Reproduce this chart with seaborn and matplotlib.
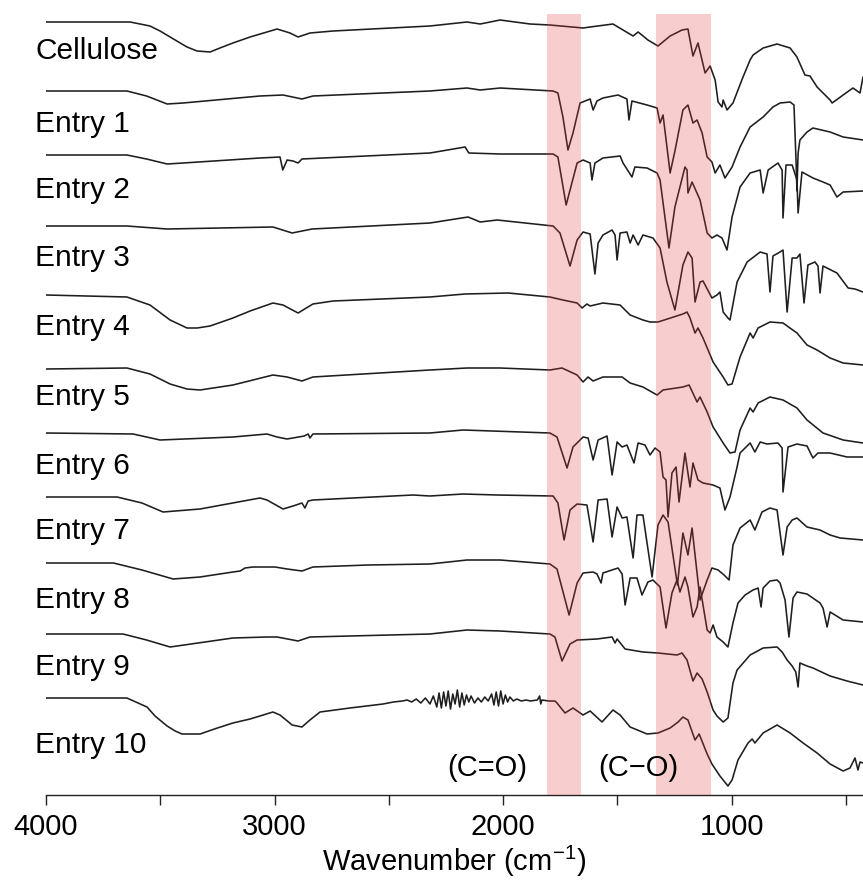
import pandas as pd
import matplotlib
matplotlib.use('Agg')
import matplotlib.pyplot as plt
from matplotlib.ticker import MultipleLocator
import seaborn as sns

# FTIR spectra, stacked. (wavenumber cm-1, relative transmittance a.u.)
names = ['Cellulose', 'Entry 1', 'Entry 2', 'Entry 3', 'Entry 4', 'Entry 5',
         'Entry 6', 'Entry 7', 'Entry 8', 'Entry 9', 'Entry 10']
offsets = [773, 704, 640, 569, 500, 426, 362, 298, 232, 161, 97]

cellulose = [(4000, 0), (3632, 0), (3545, -4), (3501, -9), (3457, -15), (3383, -25),
             (3339, -29), (3282, -30), (3239, -26), (3182, -21), (3107, -15), (2989, -7),
             (2932, -11), (2897, -15), (2845, -11), (2744, -9),
             (2320, -4), (2158, 0), (2100, -2), (2013, 2), (1882, -2), (1795, -3),
             (1650, -6), (1619, -5), (1519, -2), (1431, -14), (1409, -10), (1366, -18),
             (1322, -24), (1269, -14), (1217, -8), (1191, -7), (1169, -34), (1147, -21),
             (1116, -51), (1094, -44), (1072, -58), (1059, -80), (1042, -85), (1037, -78),
             (1020, -88), (994, -81), (950, -55), (919, -38), (906, -33), (862, -26),
             (801, -22), (744, -26), (714, -35), (679, -53), (657, -54), (626, -65),
             (569, -78), (560, -81), (512, -73), (469, -66), (438, -71), (425, -55)]

entry1 = [(4000, 0), (3646, 0), (3560, -5), (3470, -13), (3400, -12), (3064, -5),
          (2963, -4), (2880, -8),
          (2832, -5), (2320, 0), (2158, 3), (2100, 1), (2013, 3), (1781, 0), (1760, -2),
          (1738, -26), (1716, -59), (1694, -42), (1663, -12), (1619, -8), (1606, -19),
          (1589, -10), (1563, -7), (1497, -4), (1458, -8), (1449, -29), (1436, -10),
          (1370, -14), (1326, -17), (1313, -32), (1300, -24), (1269, -82), (1248, -60),
          (1213, -19), (1191, -14), (1169, -32), (1151, -29), (1129, -42), (1107, -66),
          (1086, -71), (1072, -82), (1051, -74), (1029, -87), (998, -76), (963, -56),
          (919, -36), (862, -26), (819, -16), (788, -12), (744, -11), (727, -14),
          (718, -70), (714, -100), (709, -62), (701, -49), (670, -41), (644, -37),
          (569, -41), (512, -46), (425, -49)]

entry2 = [(4000, 0), (3646, 0), (3560, -4), (3470, -9), (3400, -8), (3064, -3),
          (2976, -2), (2964, -15),
          (2945, -5), (2919, -6), (2897, -8), (2880, -4), (2320, 2), (2166, 8), (2150, 2),
          (2013, 1), (1781, 1), (1760, -2), (1724, -50), (1676, -8), (1650, -5),
          (1619, -8), (1611, -25), (1598, -8), (1563, -3), (1488, -1), (1475, -8),
          (1436, -22), (1423, -12), (1370, -13), (1326, -18), (1313, -25), (1274, -93),
          (1248, -52), (1204, -12), (1195, -15), (1191, -38), (1173, -27), (1138, -45),
          (1107, -78), (1086, -83), (1064, -80), (1042, -83), (1020, -95), (998, -62),
          (963, -32), (919, -18), (875, -15), (862, -38), (840, -15), (797, -8),
          (779, -15), (775, -63), (762, -10), (735, -10), (714, -25), (709, -58),
          (692, -17), (644, -23), (600, -27), (569, -30), (539, -42), (512, -37),
          (425, -36)]

entry3 = [(4000, 0), (3646, 0), (3470, -3), (3007, -1), (2923, -7), (2836, -3),
          (2320, 3), (2153, 9), (2100, 4), (2026, 6), (1781, 0), (1751, -7), (1707, -40),
          (1676, -14), (1650, -6), (1619, -8), (1598, -48), (1584, -17), (1563, -9),
          (1523, -4), (1510, -9), (1501, -34), (1488, -7), (1458, -6), (1444, -17),
          (1431, -9), (1409, -19), (1388, -9), (1344, -12), (1313, -22), (1283, -56),
          (1248, -84), (1213, -39), (1191, -26), (1173, -32), (1160, -76), (1138, -56),
          (1125, -55), (1086, -72), (1064, -69), (1051, -66), (1037, -86), (1016, -92),
          (1007, -94), (976, -56), (932, -36), (875, -26), (845, -28), (832, -66),
          (819, -30), (788, -26), (775, -24), (757, -86), (735, -32), (714, -32),
          (701, -28), (683, -77), (666, -39), (635, -36), (622, -40), (613, -67),
          (600, -40), (539, -47), (490, -62), (460, -63), (425, -66)]

entry4 = [(4000, 0), (3646, -2), (3545, -10), (3457, -25), (3383, -33), (3339, -33),
          (3282, -31), (3182, -23), (3107, -16), (3007, -8),
          (2963, -10), (2897, -18), (2832, -9), (2744, -6), (2320, -2), (2166, 1),
          (1978, 2), (1795, -2), (1738, -5), (1676, -8), (1654, -13), (1633, -9),
          (1619, -11), (1563, -8), (1488, -10), (1444, -20), (1388, -25), (1357, -27),
          (1322, -27), (1213, -19), (1195, -17), (1182, -23), (1160, -38), (1147, -33),
          (1125, -43), (1081, -67), (1037, -82), (1016, -90), (998, -89), (963, -62),
          (919, -38), (906, -43), (884, -33), (832, -27), (775, -28), (714, -38),
          (670, -50), (626, -55), (569, -63), (512, -68), (425, -70)]

entry5 = [(4000, 0), (3646, 1), (3545, -5), (3457, -15), (3383, -20), (3326, -21),
          (3182, -16), (3007, -6),
          (2945, -8), (2880, -12), (2832, -8), (2320, -1), (2158, 1), (2013, 1),
          (1795, -1), (1742, 1), (1676, -6), (1650, -13), (1628, -8), (1606, -12),
          (1563, -8), (1479, -8), (1444, -14), (1388, -18), (1326, -26), (1300, -21),
          (1213, -18), (1186, -16), (1151, -33), (1138, -28), (1107, -43), (1081, -58),
          (1037, -74), (1007, -84), (985, -83), (963, -61), (919, -39), (906, -43),
          (884, -34), (832, -28), (775, -31), (714, -39), (670, -51), (600, -64),
          (512, -71), (425, -74)]

entry6 = [(4000, 0), (3619, -1), (3501, -7), (3182, -4), (3033, -1), (2989, -4),
          (2945, -6), (2870, -3), (2853, -1), (2845, -5), (2832, -1), (2320, 0),
          (2175, 3), (1795, 0), (1764, -4), (1720, -35), (1694, -14), (1650, -4),
          (1628, -5), (1606, -27), (1584, -7), (1545, -3), (1523, -42), (1501, -9),
          (1479, -14), (1458, -12), (1427, -30), (1409, -10), (1379, -12), (1357, -22),
          (1335, -15), (1313, -19), (1300, -44), (1287, -47), (1278, -84), (1261, -40),
          (1243, -34), (1230, -69), (1204, -20), (1182, -54), (1169, -30), (1147, -47),
          (1125, -50), (1081, -52), (1051, -55), (1029, -77), (1007, -64), (976, -34),
          (963, -20), (919, -10), (898, -19), (875, -9), (845, -11), (797, -10),
          (779, -15), (775, -59), (753, -14), (714, -11), (670, -13), (644, -25),
          (622, -20), (569, -20), (495, -24), (425, -24)]

entry7 = [(4000, 0), (3689, 0), (3580, -6), (3488, -15), (3326, -12), (3064, -1),
          (3033, -3),
          (2963, -12), (2919, -9), (2880, -6), (2867, -11), (2853, -4), (2832, -3),
          (2394, 2), (2320, 1), (2175, 3), (2026, 2), (1781, 1), (1760, -6),
          (1733, -43), (1707, -13), (1676, -7), (1633, -8), (1606, -45), (1584, -3),
          (1545, -2), (1523, -40), (1501, -10), (1479, -21), (1458, -20), (1431, -61),
          (1414, -18), (1388, -18), (1348, -80), (1322, -28), (1300, -18), (1278, -25),
          (1237, -88), (1213, -36), (1191, -58), (1173, -31), (1138, -103), (1107, -83),
          (1086, -71), (1059, -73), (1033, -78), (1011, -83), (994, -48), (963, -31),
          (919, -23), (898, -33), (867, -15), (832, -11), (801, -13), (775, -58),
          (757, -30), (735, -23), (714, -21), (670, -30), (613, -33), (569, -38),
          (525, -41), (425, -43)]

entry8 = [(4000, 0), (3705, 0), (3580, -7), (3444, -16), (3326, -14), (3182, -9),
          (3150, -8),
          (3129, -5), (3094, -4), (2998, -4), (2945, -6), (2880, -8), (2832, -4),
          (2590, -2), (2320, -1), (2158, 3), (2013, 3), (1795, -1), (1764, -6),
          (1711, -52), (1676, -20), (1650, -10), (1606, -9), (1589, -11), (1571, -20),
          (1563, -10), (1497, -5), (1479, -11), (1466, -42), (1444, -15), (1414, -15),
          (1392, -32), (1366, -19), (1344, -17), (1313, -24), (1287, -65), (1261, -30),
          (1239, -17), (1226, -29), (1204, -14), (1191, -24), (1169, -54), (1151, -44),
          (1138, -24), (1107, -67), (1094, -70), (1081, -62), (1064, -74), (1037, -79),
          (1016, -84), (994, -60), (972, -40), (941, -32), (906, -27), (884, -25),
          (871, -44), (862, -25), (832, -18), (801, -17), (788, -20), (766, -37),
          (749, -74), (731, -35), (714, -29), (670, -31), (613, -40), (600, -45),
          (582, -64), (569, -49), (512, -57), (425, -59)]

entry9 = [(4000, 0), (3663, 0), (3560, -6), (3457, -13), (3182, -4), (3033, -3),
          (2989, -3),
          (2897, -7), (2845, -3), (2320, 0), (2158, 4), (2013, 3), (1795, 0), (1773, -3),
          (1742, -27), (1707, -10), (1676, -6), (1589, -5), (1523, -3), (1510, -9),
          (1501, -5), (1466, -15), (1414, -17), (1388, -18), (1322, -19), (1239, -21),
          (1217, -19), (1195, -26), (1169, -47), (1151, -39), (1129, -45), (1107, -58),
          (1081, -76), (1064, -82), (1037, -88), (1016, -84), (994, -49), (976, -36),
          (919, -21), (862, -14), (801, -13), (779, -18), (757, -26), (735, -32),
          (719, -38), (709, -53), (701, -29), (670, -32), (644, -34), (569, -42),
          (495, -47), (425, -51)]

entry10 = [(4000, 0), (3646, 0), (3558, -9), (3523, -18), (3470, -28), (3435, -33),
           (3405, -36), (3326, -36), (3250, -30), (3182, -25), (3107, -21),
           (3007, -14), (2976, -17), (2923, -27), (2880, -29), (2845, -22),
           (2801, -14), (2670, -10), (2525, -6), (2480, -4), (2440, -3), (2420, -2),
           (2400, -4), (2380, -1), (2360, -5), (2340, 0), (2320, -6), (2305, 2),
           (2290, -9), (2280, 5), (2270, -10), (2260, 6), (2250, -8), (2240, 7),
           (2230, -11), (2220, 4), (2210, -6), (2200, 8), (2190, -9), (2180, 5),
           (2170, -7), (2160, 3), (2150, -4), (2140, 2), (2125, -5), (2110, 0),
           (2095, -4), (2080, 1), (2065, -3), (2050, 4), (2040, -7), (2030, 6),
           (2020, -8), (2010, 7), (2000, -6), (1990, 3), (1980, -4), (1970, 1),
           (1955, -3), (1940, -1), (1920, -3), (1900, -2), (1880, -3), (1850, -2),
           (1840, 2), (1835, -6), (1830, -2), (1800, -3), (1773, -3), (1764, -5),
           (1729, -15), (1694, -10), (1650, -17), (1619, -13), (1567, -24), (1519, -12),
           (1488, -17), (1444, -29), (1370, -36), (1322, -35), (1269, -30), (1234, -24),
           (1213, -19), (1191, -22), (1160, -42), (1142, -36), (1107, -56), (1086, -66),
           (1051, -78), (1016, -88), (998, -82), (972, -62), (928, -45), (910, -41),
           (898, -45), (862, -35), (801, -27), (744, -35), (687, -45), (626, -55),
           (569, -66), (512, -73), (482, -70), (460, -60), (447, -72), (438, -64),
           (425, -65)]

traces = [cellulose, entry1, entry2, entry3, entry4, entry5,
          entry6, entry7, entry8, entry9, entry10]

bands = [(1808, 1659), (1332, 1092)]
band_notes = ['(C=O)', '(C\u2212O)']
xticks_major = 1000
xticks_minor = 500

rows = []
for name, off, pts in zip(names, offsets, traces):
    for wn, t in pts:
        rows.append((name, wn, off + t))
df = pd.DataFrame(rows, columns=['sample', 'wavenumber', 'transmittance'])

sns.set_style('white')
plt.rcParams['font.family'] = ['Liberation Sans', 'DejaVu Sans']
plt.rcParams['mathtext.fontset'] = 'custom'
plt.rcParams['mathtext.rm'] = 'Liberation Sans'
plt.rcParams['text.color'] = 'black'
plt.rcParams['axes.labelcolor'] = 'black'
plt.rcParams['xtick.color'] = 'black'

fig = plt.figure(figsize=(8.63, 8.83), dpi=100)
ax = fig.add_axes([46 / 863, 88 / 883, 817 / 863, 781 / 883])

sns.lineplot(data=df, x='wavenumber', y='transmittance', units='sample',
             estimator=None, color='#1e1e1e', linewidth=1.15, ax=ax)

for lo, hi in bands:
    ax.axvspan(lo, hi, color='#e23b3b', alpha=0.25, lw=0, zorder=3)

# sample labels on the left
label_y = [744, 671, 605, 537, 468, 398, 329, 264, 195, 128, 50]
for name, y in zip(names, label_y):
    ax.text(4048, y, name, fontsize=21.5, ha='left', va='center', clip_on=False)

ax.text(2070, 27, band_notes[0], fontsize=21, ha='center', va='center')
ax.text(1409, 27, band_notes[1], fontsize=21, ha='center', va='center')

ax.set_xlim(4000, 425)
ax.set_ylim(0, 781)
ax.xaxis.set_major_locator(MultipleLocator(xticks_major))
ax.xaxis.set_minor_locator(MultipleLocator(xticks_minor))
ax.tick_params(axis='x', which='both', direction='out', length=7, width=1,
               bottom=True, labelsize=21, pad=6, color='#222222')
ax.set_yticks([])
ax.set_ylabel('')
ax.set_xlabel(r'Wavenumber (cm$^{\mathregular{-1}}$)', fontsize=21, labelpad=2)

for side in ['left', 'top', 'right']:
    ax.spines[side].set_visible(False)
ax.spines['bottom'].set_color('#222222')
ax.spines['bottom'].set_linewidth(1)

fig.savefig('out.png', dpi=100)
